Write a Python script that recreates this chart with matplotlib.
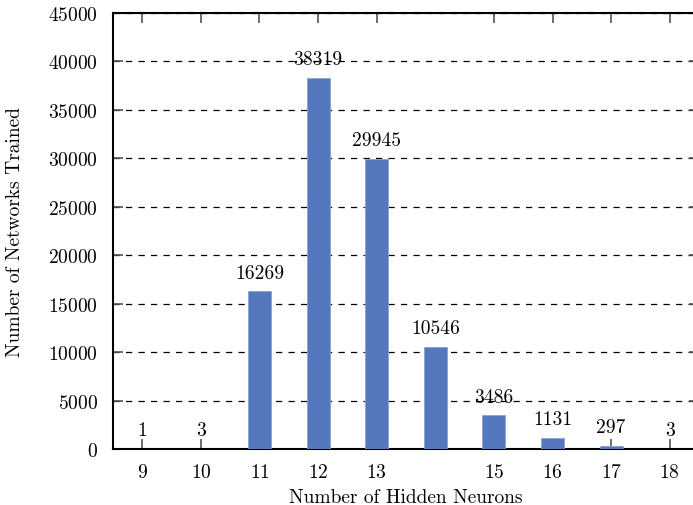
import matplotlib
matplotlib.use('Agg')
import matplotlib.pyplot as plt

plt.rcParams['font.family'] = 'serif'
plt.rcParams['font.serif'] = ['cmr10', 'DejaVu Serif']
plt.rcParams['axes.formatter.use_mathtext'] = True

# hidden neuron counts and how many networks were trained with each
neurons = [9, 10, 11, 12, 13, 14, 15, 16, 17, 18]
trained = [1, 3, 16269, 38319, 29945, 10546, 3486, 1131, 297, 3]
tick_pos = [9, 10, 11, 12, 13, 15, 16, 17, 18]
y_ticks = list(range(0, 45001, 5000))

fig = plt.figure(figsize=(6.93, 5.06), dpi=100)
ax = fig.add_axes([113 / 693, 56 / 506, 586 / 693, 436 / 506])

ax.set_axisbelow(True)
ax.yaxis.grid(True, linestyle=(0, (5, 5)), color='black', linewidth=0.9)

bars = ax.bar(neurons, trained, width=0.39, color='#5577bd',
              edgecolor='#8ca3d6', linewidth=0.6, zorder=3)
for x, v in zip(neurons, trained):
    ax.annotate(f'{v}', (x, v), xytext=(0, 7), textcoords='offset points',
                ha='center', va='bottom', fontsize=14, zorder=4)

ax.set_xlim(8.5, 18.5)
ax.set_ylim(0, 45000)
ax.set_xticks(tick_pos)
ax.set_yticks(y_ticks)
ax.tick_params(direction='in', length=7, width=1.2, top=True, right=True,
               labelsize=14, pad=10, color='#555555')
ax.tick_params(axis='y', pad=11)
for s in ax.spines.values():
    s.set_linewidth(1.5)

ax.set_xlabel('Number of Hidden Neurons', fontsize=14, labelpad=5)
ax.set_ylabel('Number of Networks Trained', fontsize=14, labelpad=17)

fig.savefig('out.png', dpi=100)
